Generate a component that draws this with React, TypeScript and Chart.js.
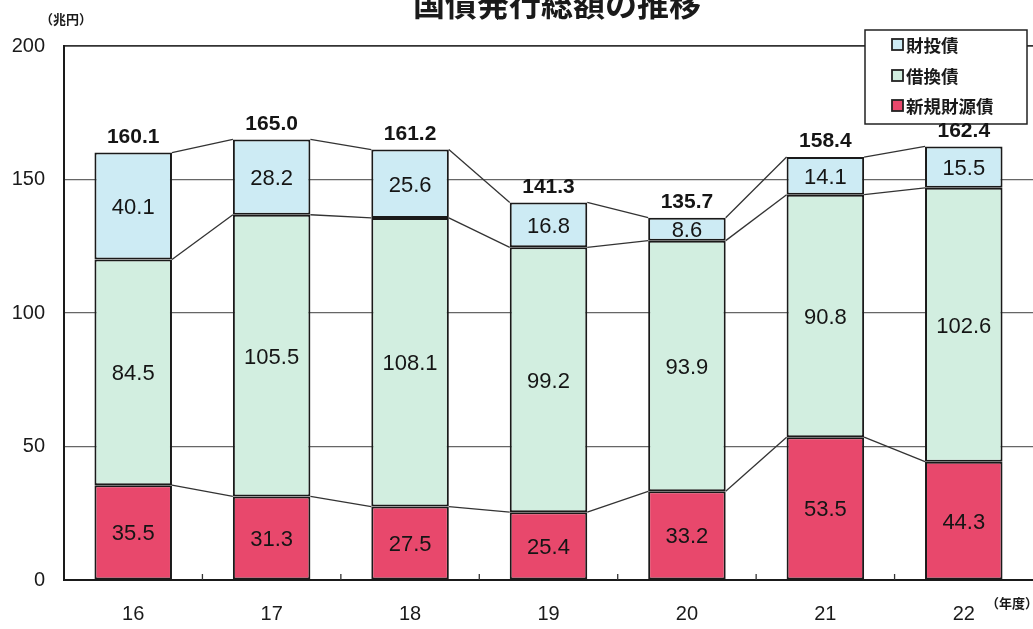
import React, { useEffect, useRef } from "react";
import { Chart, registerables } from "chart.js";

Chart.register(...registerables);

const categories = ["16", "17", "18", "19", "20", "21", "22"];
const newIssue = [35.5, 31.3, 27.5, 25.4, 33.2, 53.5, 44.3];
const refunding = [84.5, 105.5, 108.1, 99.2, 93.9, 90.8, 102.6];
const filp = [40.1, 28.2, 25.6, 16.8, 8.6, 14.1, 15.5];
const totals = [160.1, 165.0, 161.2, 141.3, 135.7, 158.4, 162.4];
const yTicks = [0, 50, 100, 150, 200];

const TITLE = "国債発行総額の推移";
const Y_UNIT = "（兆円）";
const X_UNIT = "（年度）";

const RED = "#e8486c";
const GREEN = "#d2eee0";
const BLUE = "#cdebf4";
const NUM_FONT = '"Liberation Sans", Arial, sans-serif';
const JP_FONT = '"Noto Sans CJK JP", "Liberation Sans", sans-serif';

function drawLegend(chart: any) {
  const ctx = chart.ctx;
  const lx = 865, ly = 30, lw = 162, lh = 94;
  ctx.fillStyle = "#ffffff";
  ctx.fillRect(lx, ly, lw, lh);
  ctx.strokeStyle = "#222";
  ctx.lineWidth = 1.5;
  ctx.strokeRect(lx, ly, lw, lh);
  const items = [2, 1, 0];
  const rowsY = [45, 76, 106];
  ctx.font = `bold 17.5px ${JP_FONT}`;
  items.forEach((d, k) => {
    const ds = chart.data.datasets[d];
    const y = rowsY[k];
    ctx.fillStyle = ds.backgroundColor;
    ctx.fillRect(892, y - 6, 11, 11);
    ctx.strokeStyle = "#222";
    ctx.lineWidth = 1.8;
    ctx.strokeRect(892, y - 6, 11, 11);
    ctx.fillStyle = "#1a1a1a";
    ctx.textAlign = "left";
    ctx.textBaseline = "middle";
    ctx.fillText(ds.label, 906, y);
  });
}

const overlayPlugin = {
  id: "overlay",
  afterDatasetsDraw(chart: any) {
    const ctx = chart.ctx;
    const metas = [0, 1, 2].map((i) => chart.getDatasetMeta(i));
    const n = categories.length;
    ctx.save();
    ctx.strokeStyle = "#333";
    ctx.lineWidth = 1.3;
    for (let j = 0; j < n - 1; j++) {
      for (let d = 0; d < 3; d++) {
        const a = metas[d].data[j];
        const b = metas[d].data[j + 1];
        ctx.beginPath();
        ctx.moveTo(a.x + a.width / 2, a.y);
        ctx.lineTo(b.x - b.width / 2, b.y);
        ctx.stroke();
      }
    }
    const xs = chart.scales.x;
    const bottom = chart.chartArea.bottom;
    for (let j = 0; j < n - 1; j++) {
      const bx = (xs.getPixelForValue(j) + xs.getPixelForValue(j + 1)) / 2;
      ctx.beginPath();
      ctx.moveTo(bx, bottom);
      ctx.lineTo(bx, bottom - 6);
      ctx.stroke();
    }
    drawLegend(chart);
    ctx.fillStyle = "#151515";
    ctx.textAlign = "center";
    ctx.textBaseline = "middle";
    ctx.font = `22px ${NUM_FONT}`;
    const series = [newIssue, refunding, filp];
    for (let d = 0; d < 3; d++) {
      for (let j = 0; j < n; j++) {
        const el = metas[d].data[j];
        const yMid = (el.y + el.base) / 2 + 2;
        ctx.fillText(series[d][j].toFixed(1), el.x, yMid);
      }
    }
    ctx.font = `bold 21px ${NUM_FONT}`;
    ctx.textBaseline = "bottom";
    const ys = chart.scales.y;
    for (let j = 0; j < n; j++) {
      const el = metas[2].data[j];
      ctx.fillText(totals[j].toFixed(1), el.x, ys.getPixelForValue(totals[j]) - 5);
    }
    ctx.restore();
  },
  afterDraw(chart: any) {
    const ctx = chart.ctx;
    ctx.save();
    ctx.fillStyle = "#1a1a1a";
    ctx.textAlign = "center";
    ctx.textBaseline = "alphabetic";
    ctx.font = `bold 32px ${JP_FONT}`;
    ctx.fillText(TITLE, 557, 16);
    ctx.font = `bold 13px ${JP_FONT}`;
    ctx.textAlign = "left";
    ctx.textBaseline = "middle";
    ctx.fillText(Y_UNIT, 40, 19);
    ctx.fillText(X_UNIT, 986, 603);
    ctx.restore();
  },
};

export default function App() {
  const ref = useRef<HTMLCanvasElement>(null);
  useEffect(() => {
    if (!ref.current) return;
    const mk = (label: string, data: number[], color: string) => ({
      label,
      data,
      backgroundColor: color,
      borderColor: "#1a1a1a",
      borderWidth: 2,
      borderSkipped: false,
      barPercentage: 0.56,
      categoryPercentage: 1.0,
    });
    const chart = new Chart(ref.current, {
      type: "bar",
      data: {
        labels: categories,
        datasets: [
          mk("新規財源債", newIssue, RED),
          mk("借換債", refunding, GREEN),
          mk("財投債", filp, BLUE),
        ],
      },
      options: {
        responsive: false,
        animation: false,
        devicePixelRatio: 1,
        layout: { padding: { top: 46, left: 0, right: 0, bottom: 0 } },
        plugins: {
          legend: { display: false },
          title: { display: false },
          tooltip: { enabled: false },
        },
        scales: {
          x: {
            stacked: true,
            grid: { display: false },
            border: { display: true, color: "#1a1a1a", width: 2 },
            ticks: {
              color: "#1a1a1a",
              font: { size: 20, family: NUM_FONT },
              padding: 14,
            },
            afterFit: (s: any) => {
              s.height = 49;
            },
          },
          y: {
            stacked: true,
            min: 0,
            max: 200,
            afterBuildTicks: (s: any) => {
              s.ticks = yTicks.map((v) => ({ value: v }));
            },
            grid: {
              drawTicks: false,
              color: (c: any) => (c.tick && c.tick.value === 200 ? "#333" : "#666"),
              lineWidth: (c: any) => (c.tick && c.tick.value === 200 ? 1.8 : 1.2),
            },
            border: { display: true, color: "#1a1a1a", width: 2 },
            ticks: {
              color: "#1a1a1a",
              font: { size: 20, family: NUM_FONT },
              padding: 19,
            },
            afterFit: (s: any) => {
              s.width = 64;
            },
          },
        },
      },
      plugins: [overlayPlugin],
    } as any);
    return () => chart.destroy();
  }, []);
  return (
    <div style={{ position: "absolute", left: 0, top: 0, width: 1033, height: 629, background: "#fff" }}>
      <canvas ref={ref} width={1033} height={629} style={{ display: "block" }} />
    </div>
  );
}
